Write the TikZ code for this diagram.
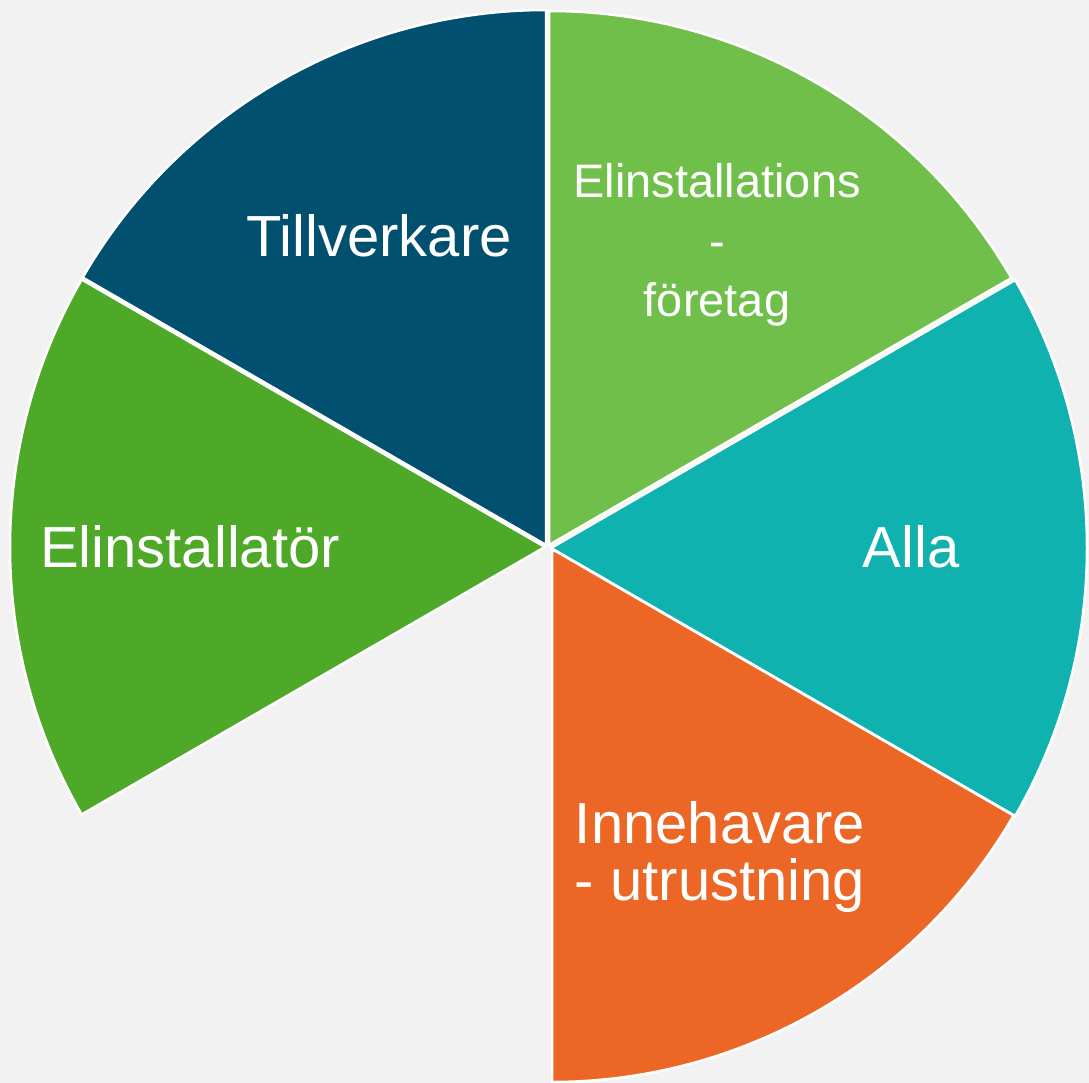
\documentclass[tikz,border=0pt]{standalone}
\usepackage{fontspec}
\setmainfont{Liberation Sans}
\definecolor{bgc}{HTML}{F2F2F2}
\definecolor{cblue}{HTML}{01506F}
\definecolor{clgreen}{HTML}{70BF4B}
\definecolor{cteal}{HTML}{10B2AF}
\definecolor{corange}{HTML}{EC6726}
\definecolor{cgreen}{HTML}{4EA928}
\tikzset{
  sector/.style={draw=white, line width=2.5pt, line join=miter},
  biglabel/.style={text=white, font=\fontsize{58}{57}\selectfont, inner sep=0pt, align=center},
  smalllabel/.style={text=white, font=\fontsize{47}{59.5}\selectfont, inner sep=0pt, align=center}
}
\begin{document}
\begin{tikzpicture}[x=1pt,y=-1pt]
\useasboundingbox (0,0) rectangle (1089,1083);
\fill[bgc] (0,0) rectangle (1089,1083);
% sectors (code angle = - visual angle)
\fill[cblue, sector] (546,545) -- ++(-90:535) arc[start angle=-90, end angle=-150, radius=535] -- cycle;
\fill[clgreen, sector] (549,545) -- ++(-30:534) arc[start angle=-30, end angle=-90, radius=534] -- cycle;
\fill[cteal, sector] (551,548) -- ++(30:536) arc[start angle=30, end angle=-30, radius=536] -- cycle;
\fill[corange, sector] (552,549) -- ++(90:533) arc[start angle=90, end angle=30, radius=533] -- cycle;
\fill[cgreen, sector] (545,547) -- ++(-150:535) arc[start angle=-150, end angle=-210, radius=535] -- cycle;
% labels
\node[biglabel, anchor=base] (till) at (379,257) {Tillverkare};
\node[smalllabel] (elf) at (717,245) {Elinstallations\\-\\företag};
\node[biglabel, anchor=base] (alla) at (911,567) {Alla};
\node[biglabel] (inne) at (720,857) {Innehavare\\- utrustning};
\node[biglabel, anchor=base] (eli) at (190,567) {Elinstallatör};
\end{tikzpicture}
\end{document}
